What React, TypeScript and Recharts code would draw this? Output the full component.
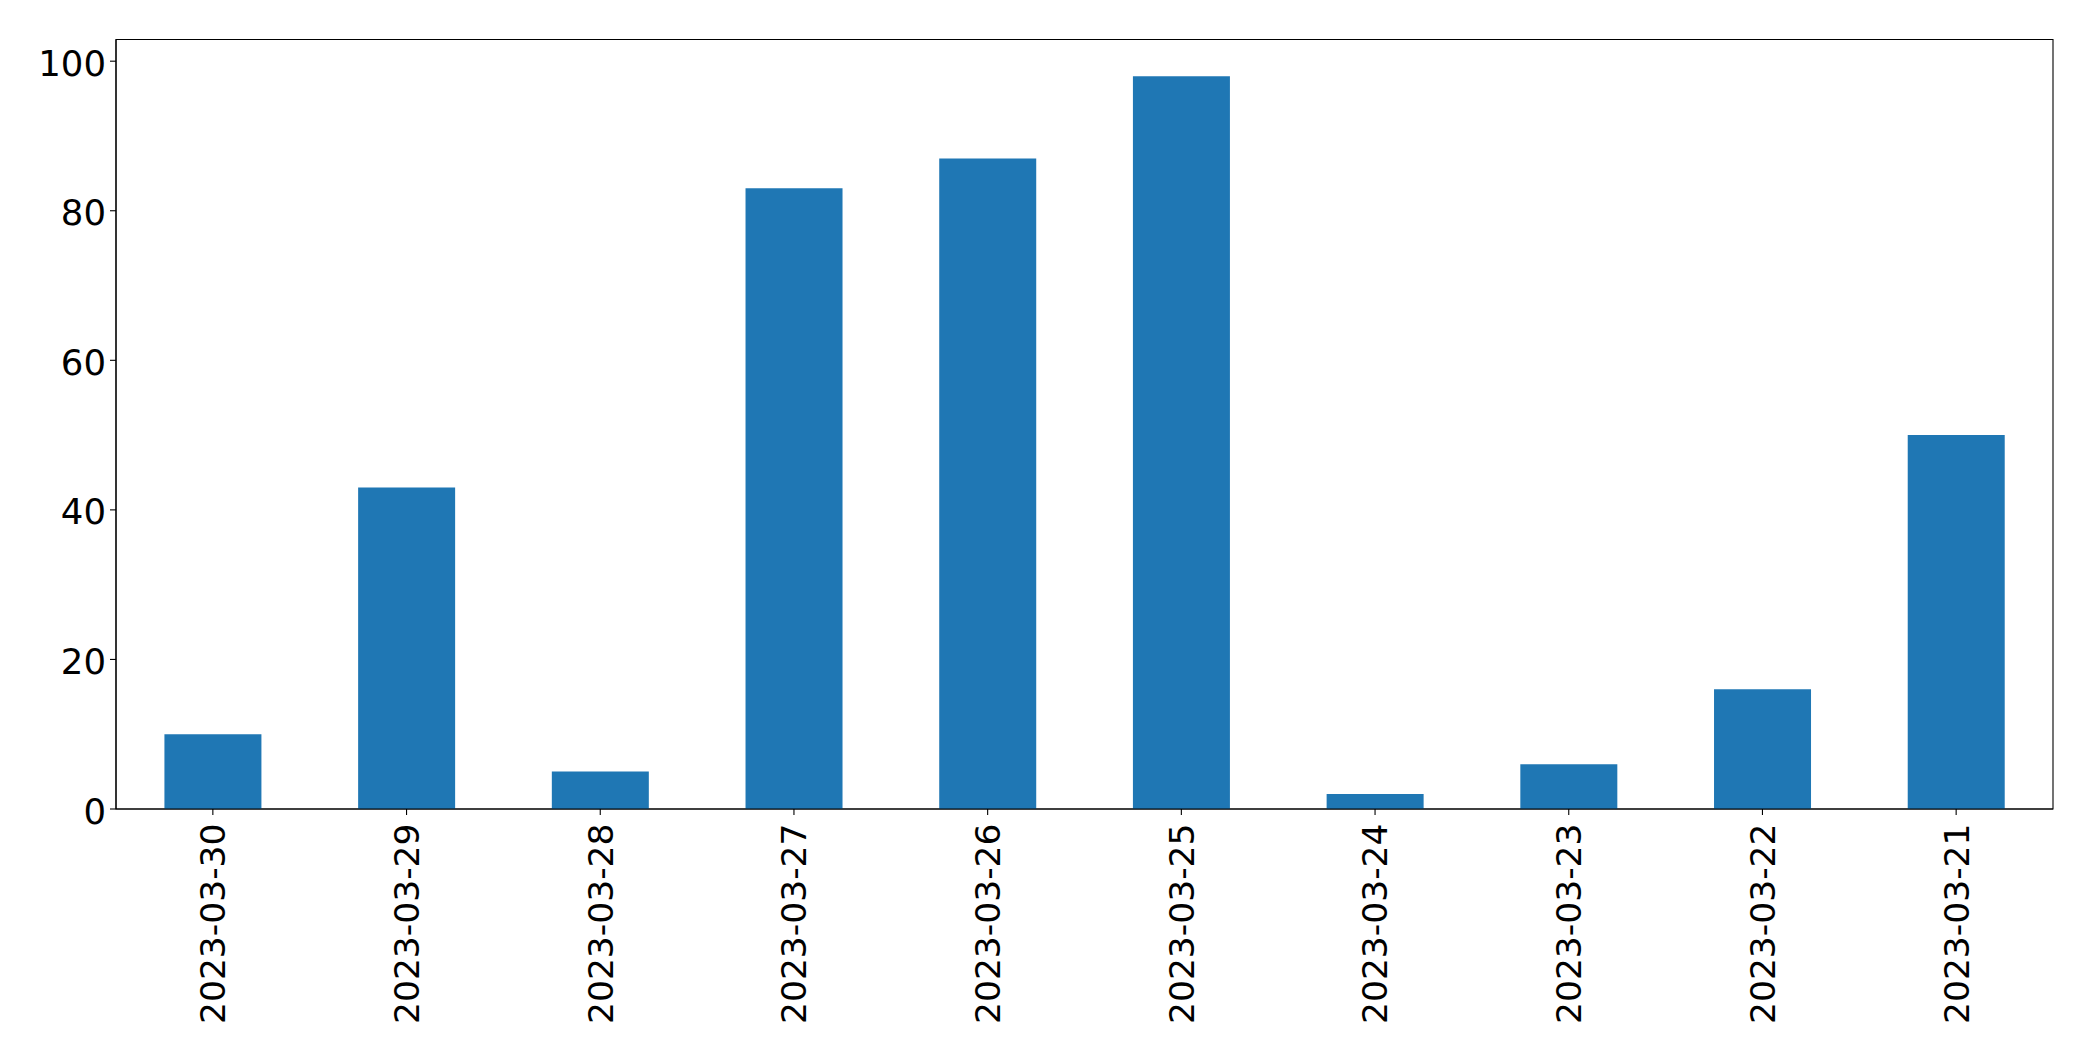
import React from 'react';
import { BarChart, Bar, XAxis, YAxis, ReferenceArea } from 'recharts';

const categories = ['2023-03-30', '2023-03-29', '2023-03-28', '2023-03-27', '2023-03-26', '2023-03-25', '2023-03-24', '2023-03-23', '2023-03-22', '2023-03-21'];
const values = [10, 43, 5, 83, 87, 98, 2, 6, 16, 50];
const yTicks = [0, 20, 40, 60, 80, 100];
const yMax = 102.9;

const data = categories.map((c, i) => ({ date: c, value: values[i] }));

const FONT = 'DejaVu Sans, sans-serif';

const XTick = (props: any) => {
  const { x, y, payload } = props;
  const ay = y + 14.5;
  return (
    <g>
      <line x1={x} y1={y} x2={x} y2={y + 6} stroke="#000" strokeWidth={1.1} />
      <text x={x} y={ay} transform={`rotate(-90, ${x}, ${ay})`} textAnchor="end" dy="0.36em" fontFamily={FONT} fontSize={34.5} fill="#000">
        {payload.value}
      </text>
    </g>
  );
};

const YTick = (props: any) => {
  const { x, y, payload } = props;
  return (
    <g>
      <line x1={x - 6} y1={y} x2={x} y2={y} stroke="#000" strokeWidth={1.1} />
      <text x={x - 10} y={y} textAnchor="end" dy="0.41em" fontFamily={FONT} fontSize={35.5} fill="#000">
        {payload.value}
      </text>
    </g>
  );
};

export default function App() {
  return (
    <div style={{ position: 'absolute', left: 0, top: 0, background: '#fff' }}>
      <BarChart width={2093} height={1061} data={data} margin={{ top: 39.5, right: 40, bottom: 0, left: 0 }} barCategoryGap="25%">
        <XAxis dataKey="date" xAxisId="bottom" height={252} interval={0} tickSize={0} tickMargin={0} tickLine={false} tick={<XTick />} axisLine={{ stroke: '#000', strokeWidth: 1.1 }} />
        <YAxis yAxisId="left" width={116} domain={[0, yMax]} ticks={yTicks} allowDataOverflow tickSize={0} tickMargin={0} tickLine={false} tick={<YTick />} axisLine={{ stroke: '#000', strokeWidth: 1.1 }} />
        <Bar dataKey="value" xAxisId="bottom" yAxisId="left" fill="#1f77b4" isAnimationActive={false} />
        <ReferenceArea xAxisId="bottom" yAxisId="left" y1={0} y2={yMax} fill="none" fillOpacity={0} stroke="#000" strokeWidth={1.1} ifOverflow="visible" />
      </BarChart>
    </div>
  );
}
